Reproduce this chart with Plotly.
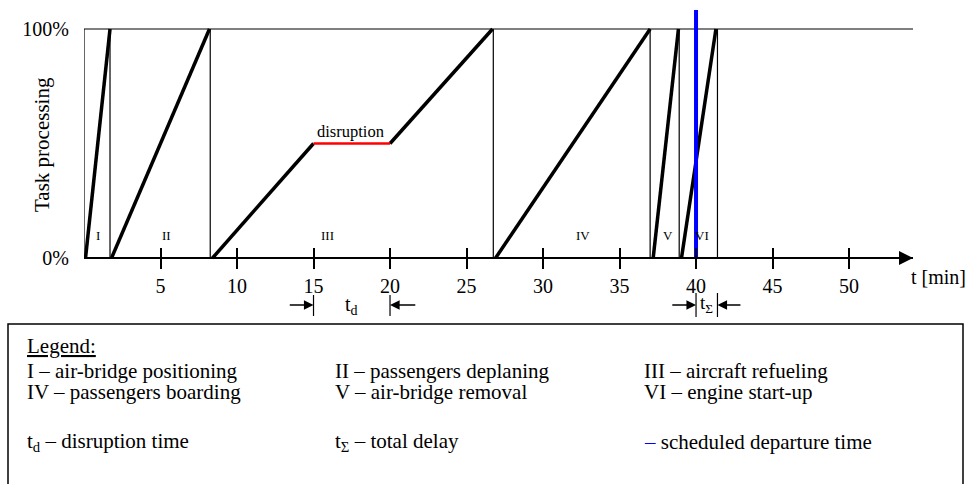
import plotly.graph_objects as go

# ---------------- data ----------------
phase_names = ["I", "II", "III", "IV", "V", "VI"]
phase_bounds = [0, 1.7, 8.25, 26.75, 37.0, 38.9, 41.4]
phase_t = [[0.1, 1.7], [1.8, 8.2], [8.4, 15.0], [20.0, 26.7], [26.9, 37.0], [37.2, 38.85], [39.05, 41.3]]
phase_p = [[0, 100], [0, 100], [0, 50], [50, 100], [0, 100], [0, 100], [0, 100]]
disruption_t = [15.0, 20.0]
disruption_p = [50, 50]
label_t = [0.9, 5.4, 15.9, 32.6, 38.15, 40.4]
label_p = 10
scheduled_departure = 40.0
delay_start = 40.0
delay_end = 41.4
x_ticks = [5, 10, 15, 20, 25, 30, 35, 40, 45, 50]
y_ticks = [0, 100]
y_ticklabels = ["0%", "100%"]
x_end = 54.18

legend_col1 = ["I – air-bridge positioning", "IV – passengers boarding", "t<sub>d</sub> – disruption time"]
legend_col2 = ["II – passengers deplaning", "V – air-bridge removal", "t<sub>Σ</sub> – total delay"]
legend_col3 = ["III – aircraft refueling", "VI – engine start-up",
               '<span style="color:#0000ff;fill:#0000ff">–</span> scheduled departure time']

# ---------------- geometry helpers (reference pixel layout) ----------------
W, H = 967, 484
x0_px, x1_px = 84, 913
y0_px, y100_px = 258, 29
ppu = (y0_px - y100_px) / 100.0


def yv(px):
    return (y0_px - px) / ppu


def py(px):
    return (H - px) / H


def pxp(px):
    return px / W


y_top = yv(0)
y_bot = yv(H)

FONT = "Liberation Serif"

fig = go.Figure()

# thin frame: phase boundaries
for b in phase_bounds:
    fig.add_trace(go.Scatter(x=[b, b], y=[0, 100], mode="lines",
                             line=dict(color="black", width=1.2), hoverinfo="skip", showlegend=False))
# top 100% line
fig.add_trace(go.Scatter(x=[0, x_end], y=[100, 100], mode="lines",
                         line=dict(color="black", width=1.2), hoverinfo="skip", showlegend=False))

# progress lines
for t, p in zip(phase_t, phase_p):
    fig.add_trace(go.Scatter(x=t, y=p, mode="lines", line=dict(color="black", width=3.5),
                             hoverinfo="skip", showlegend=False))
fig.add_trace(go.Scatter(x=disruption_t, y=disruption_p, mode="lines", line=dict(color="red", width=2.5),
                         hoverinfo="skip", showlegend=False))

# scheduled departure
fig.add_trace(go.Scatter(x=[scheduled_departure, scheduled_departure], y=[0, yv(10)], mode="lines",
                         line=dict(color="blue", width=4), hoverinfo="skip", showlegend=False))

# invisible trace for overlay axis (inside ticks)
fig.add_trace(go.Scatter(x=[0, x_end], y=[0, 0], xaxis="x2", mode="markers",
                         marker=dict(opacity=0), hoverinfo="skip", showlegend=False))

# phase labels
for name, t in zip(phase_names, label_t):
    fig.add_annotation(x=t, y=label_p, text=name, showarrow=False,
                       font=dict(family=FONT, size=13, color="black"))

fig.add_annotation(x=17.4, y=yv(131), text="disruption", showarrow=False,
                   font=dict(family=FONT, size=16.5, color="black"))

# axis arrow
fig.add_annotation(x=x_end, y=0, ax=x_end - 1.0, ay=0, axref="x", ayref="y", xref="x", yref="y",
                   text="", showarrow=True, arrowhead=2, arrowsize=1.4, arrowwidth=2, arrowcolor="black",
                   standoff=0)

# t [min]
fig.add_annotation(xref="paper", yref="paper", x=pxp(909), y=py(277), xanchor="left", yanchor="middle",
                   text="t [min]", showarrow=False, font=dict(family=FONT, size=20, color="black"))

# y title
fig.add_annotation(xref="paper", yref="paper", x=pxp(42), y=py(145), xanchor="center", yanchor="middle",
                   text="Task processing", textangle=-90, showarrow=False,
                   font=dict(family=FONT, size=21, color="black"))

# t_d and t_sigma markers
for xm in [disruption_t[0], disruption_t[1]]:
    fig.add_shape(type="line", x0=xm, x1=xm, y0=yv(295), y1=yv(316), xref="x", yref="y",
                  line=dict(color="black", width=1.2))
for xm in [delay_start, delay_end]:
    fig.add_shape(type="line", x0=xm, x1=xm, y0=yv(293), y1=yv(317), xref="x", yref="y",
                  line=dict(color="black", width=1.2))

arrow_y = yv(305)
arrows = [(disruption_t[0], disruption_t[0] - 1.65), (disruption_t[1], disruption_t[1] + 1.75),
          (delay_start, delay_start - 1.65), (delay_end, delay_end + 1.6)]
for tip, tail in arrows:
    fig.add_annotation(x=tip, y=arrow_y, ax=tail, ay=arrow_y, axref="x", ayref="y", xref="x", yref="y",
                       text="", showarrow=True, arrowhead=2, arrowsize=1.2, arrowwidth=1.6,
                       arrowcolor="black", standoff=0)

fig.add_annotation(x=(disruption_t[0] + disruption_t[1]) / 2 - 0.05, y=yv(305), text="t<sub>d</sub>",
                   showarrow=False, font=dict(family=FONT, size=20, color="black"))
fig.add_annotation(x=(delay_start + delay_end) / 2, y=yv(304), text="t<sub>Σ</sub>",
                   showarrow=False, font=dict(family=FONT, size=19, color="black"))

# legend box
fig.add_shape(type="rect", xref="paper", yref="paper", x0=pxp(8), x1=pxp(963), y0=py(500), y1=py(324),
              line=dict(color="black", width=1.5), fillcolor="rgba(0,0,0,0)")

fig.add_annotation(xref="paper", yref="paper", x=pxp(25), y=py(346), xanchor="left", yanchor="middle",
                   text="<u>Legend:</u>", showarrow=False, font=dict(family=FONT, size=21, color="black"))
row_y = [371, 392, 442]
for col_x, col in zip([25, 333, 642], [legend_col1, legend_col2, legend_col3]):
    for ry, txt in zip(row_y, col):
        fig.add_annotation(xref="paper", yref="paper", x=pxp(col_x), y=py(ry), xanchor="left",
                           yanchor="middle", text=txt, showarrow=False,
                           font=dict(family=FONT, size=21, color="black"))

fig.update_layout(
    width=W, height=H, margin=dict(l=0, r=0, t=0, b=0),
    paper_bgcolor="white", plot_bgcolor="white",
    font=dict(family=FONT, color="black"),
    xaxis=dict(domain=[pxp(x0_px), pxp(x1_px)], range=[0, x_end], anchor="free", position=py(y0_px),
               showline=True, linecolor="black", linewidth=2, showgrid=False, zeroline=False,
               tickmode="array", tickvals=x_ticks, ticks="outside", ticklen=10, tickwidth=1.5,
               tickcolor="black", tickfont=dict(family=FONT, size=20, color="black")),
    xaxis2=dict(domain=[pxp(x0_px), pxp(x1_px)], range=[0, x_end], anchor="free", position=py(y0_px),
                overlaying="x", matches="x", showline=False, showgrid=False, zeroline=False,
                tickmode="array", tickvals=x_ticks, ticks="inside", ticklen=10, tickwidth=1.5,
                tickcolor="black", showticklabels=False),
    yaxis=dict(domain=[0, 1], range=[y_bot, y_top], showline=False, showgrid=False, zeroline=False,
               tickmode="array", tickvals=y_ticks, ticktext=y_ticklabels, ticks="",
               ticklabelstandoff=14, tickfont=dict(family=FONT, size=20, color="black")),
    showlegend=False,
)

fig.write_html("out.html", config={"displayModeBar": False},
               post_script="document.body.style.margin='0px';document.body.style.overflow='hidden';")
